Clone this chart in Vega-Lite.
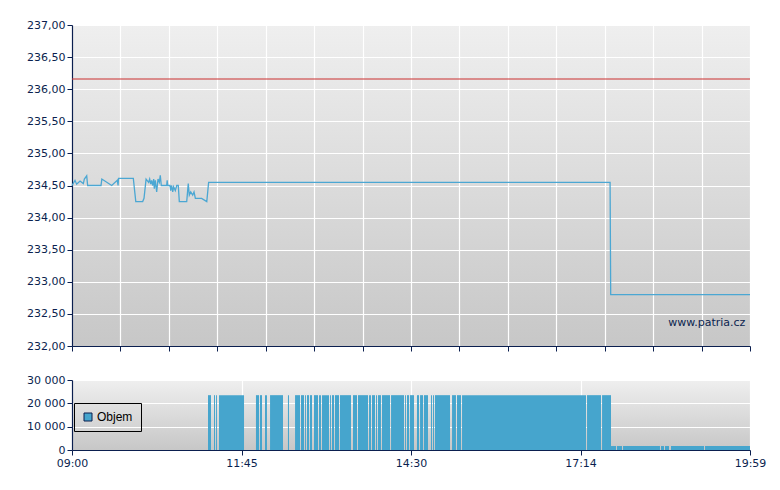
{
  "$schema": "https://vega.github.io/schema/vega-lite/v6.json",
  "background": "white",
  "padding": {"left": 26, "top": 19, "right": 20, "bottom": 5},
  "spacing": 22,
  "config": {
    "font": "DejaVu Sans",
    "view": {"stroke": null},
    "axis": {
      "labelFont": "DejaVu Sans",
      "labelFontSize": 11,
      "labelColor": "#0b1f4f",
      "labelOverlap": false,
      "domainColor": "#0b1f4f",
      "domainWidth": 1.2,
      "tickColor": "#0b1f4f",
      "tickSize": 5,
      "gridColor": "#ffffff",
      "gridWidth": 1.2,
      "gridOpacity": 1,
      "title": null,
      "labelPadding": 2
    }
  },
  "datasets": {
    "price": [
      {"min": 0, "price": 234.5},
      {"min": 2.9, "price": 234.58},
      {"min": 4.5, "price": 234.52},
      {"min": 7.8, "price": 234.57},
      {"min": 11, "price": 234.53},
      {"min": 12, "price": 234.6},
      {"min": 14.3, "price": 234.65},
      {"min": 15.2, "price": 234.5},
      {"min": 28.2, "price": 234.5},
      {"min": 29, "price": 234.6},
      {"min": 38.6, "price": 234.5},
      {"min": 44, "price": 234.58},
      {"min": 44.8, "price": 234.5},
      {"min": 45.2, "price": 234.61},
      {"min": 59.6, "price": 234.61},
      {"min": 62, "price": 234.25},
      {"min": 68.7, "price": 234.25},
      {"min": 70, "price": 234.3},
      {"min": 72, "price": 234.6},
      {"min": 74.5, "price": 234.55},
      {"min": 75.5, "price": 234.6},
      {"min": 76.5, "price": 234.52},
      {"min": 77.4, "price": 234.58},
      {"min": 78.4, "price": 234.5},
      {"min": 79.4, "price": 234.6},
      {"min": 80, "price": 234.45},
      {"min": 81, "price": 234.58},
      {"min": 82.3, "price": 234.4},
      {"min": 83.6, "price": 234.6},
      {"min": 84.9, "price": 234.55},
      {"min": 85.8, "price": 234.66},
      {"min": 86.8, "price": 234.5},
      {"min": 92, "price": 234.5},
      {"min": 92.5, "price": 234.58},
      {"min": 93, "price": 234.5},
      {"min": 95.3, "price": 234.5},
      {"min": 95.9, "price": 234.42},
      {"min": 96.9, "price": 234.5},
      {"min": 97.9, "price": 234.4},
      {"min": 98.8, "price": 234.48},
      {"min": 100.4, "price": 234.42},
      {"min": 101.8, "price": 234.5},
      {"min": 103.3, "price": 234.5},
      {"min": 104.3, "price": 234.25},
      {"min": 111.5, "price": 234.25},
      {"min": 113, "price": 234.53},
      {"min": 114, "price": 234.35},
      {"min": 115.4, "price": 234.4},
      {"min": 117.3, "price": 234.35},
      {"min": 118.6, "price": 234.4},
      {"min": 119.9, "price": 234.3},
      {"min": 126, "price": 234.3},
      {"min": 131, "price": 234.25},
      {"min": 132.8, "price": 234.55},
      {"min": 523, "price": 234.55},
      {"min": 523.6, "price": 232.8},
      {"min": 659, "price": 232.8}
    ],
    "volume": [
      {"start": 132.2, "end": 135.1, "vol": 23500},
      {"start": 138.0, "end": 139.0, "vol": 23500},
      {"start": 140.0, "end": 140.9, "vol": 23500},
      {"start": 142.9, "end": 167.2, "vol": 23500},
      {"start": 178.8, "end": 181.8, "vol": 23500},
      {"start": 182.7, "end": 184.7, "vol": 23500},
      {"start": 187.6, "end": 189.5, "vol": 23500},
      {"start": 192.5, "end": 205.1, "vol": 23500},
      {"start": 209.9, "end": 210.9, "vol": 23500},
      {"start": 216.8, "end": 221.6, "vol": 23500},
      {"start": 222.6, "end": 225.5, "vol": 23500},
      {"start": 226.5, "end": 227.4, "vol": 23500},
      {"start": 228.4, "end": 230.4, "vol": 23500},
      {"start": 231.3, "end": 233.3, "vol": 23500},
      {"start": 235.2, "end": 239.1, "vol": 23500},
      {"start": 240.1, "end": 242.0, "vol": 23500},
      {"start": 243.0, "end": 249.8, "vol": 23500},
      {"start": 250.8, "end": 251.7, "vol": 23500},
      {"start": 252.7, "end": 254.7, "vol": 23500},
      {"start": 255.6, "end": 259.5, "vol": 23500},
      {"start": 260.5, "end": 271.2, "vol": 23500},
      {"start": 273.1, "end": 277.0, "vol": 23500},
      {"start": 278.0, "end": 287.7, "vol": 23500},
      {"start": 288.7, "end": 290.6, "vol": 23500},
      {"start": 291.6, "end": 294.5, "vol": 23500},
      {"start": 295.5, "end": 296.5, "vol": 23500},
      {"start": 297.4, "end": 300.3, "vol": 23500},
      {"start": 301.3, "end": 309.1, "vol": 23500},
      {"start": 310.1, "end": 322.7, "vol": 23500},
      {"start": 323.7, "end": 324.6, "vol": 23500},
      {"start": 325.6, "end": 327.6, "vol": 23500},
      {"start": 328.5, "end": 332.4, "vol": 23500},
      {"start": 335.3, "end": 337.3, "vol": 23500},
      {"start": 338.3, "end": 341.2, "vol": 23500},
      {"start": 342.1, "end": 346.0, "vol": 23500},
      {"start": 348.9, "end": 349.9, "vol": 23500},
      {"start": 350.9, "end": 351.9, "vol": 23500},
      {"start": 352.8, "end": 367.4, "vol": 23500},
      {"start": 369.4, "end": 373.2, "vol": 23500},
      {"start": 374.2, "end": 378.1, "vol": 23500},
      {"start": 379.1, "end": 499.6, "vol": 23500},
      {"start": 500.6, "end": 514.2, "vol": 23500},
      {"start": 515.2, "end": 523.9, "vol": 23500},
      {"start": 523.9, "end": 528.8, "vol": 1700},
      {"start": 529.7, "end": 534.6, "vol": 1700},
      {"start": 535.6, "end": 571.5, "vol": 1700},
      {"start": 572.5, "end": 575.4, "vol": 1700},
      {"start": 576.4, "end": 580.3, "vol": 1700},
      {"start": 582.2, "end": 614.3, "vol": 1700},
      {"start": 615.3, "end": 659, "vol": 1700}
    ]
  },
  "vconcat": [
    {
      "width": 678,
      "height": 321,
      "view": {
        "stroke": null,
        "fill": {"gradient": "linear", "x1": 0, "y1": 0, "x2": 0, "y2": 1,
          "stops": [{"offset": 0, "color": "#efefef"}, {"offset": 1, "color": "#c7c7c7"}]}
      },
      "layer": [
        {
          "data": {"name": "price"},
          "mark": {"type": "line", "color": "#4ba7d3", "strokeWidth": 1.3},
          "encoding": {
            "x": {"field": "min", "type": "quantitative",
              "scale": {"domain": [0, 659], "nice": false, "zero": false},
              "axis": {"values": [0, 47.07, 94.14, 141.21, 188.29, 235.36, 282.43, 329.5, 376.57, 423.64, 470.71, 517.79, 564.86, 611.93, 659], "labels": false, "grid": true}},
            "y": {"field": "price", "type": "quantitative",
              "scale": {"domain": [232, 237], "nice": false, "zero": false},
              "axis": {"values": [232, 232.5, 233, 233.5, 234, 234.5, 235, 235.5, 236, 236.5, 237],
                "labelExpr": "replace(format(datum.value, '.2f'), '.', ',')", "grid": true}}
          }
        },
        {
          "data": {"values": [{"prevClose": 236.16}]},
          "mark": {"type": "rule", "color": "#cc3838", "strokeWidth": 1.6, "opacity": 0.7},
          "encoding": {"y": {"field": "prevClose", "type": "quantitative",
              "axis": {"values": [232, 232.5, 233, 233.5, 234, 234.5, 235, 235.5, 236, 236.5, 237],
                "labelExpr": "replace(format(datum.value, '.2f'), '.', ',')", "grid": true}}}
        },
        {
          "data": {"values": [{"min": 654.5, "price": 232.36, "label": "www.patria.cz"}]},
          "mark": {"type": "text", "align": "right", "baseline": "middle", "font": "DejaVu Sans", "fontSize": 11, "color": "#0b1f4f"},
          "encoding": {
            "x": {"field": "min", "type": "quantitative",
              "axis": {"values": [0, 47.07, 94.14, 141.21, 188.29, 235.36, 282.43, 329.5, 376.57, 423.64, 470.71, 517.79, 564.86, 611.93, 659], "labels": false, "grid": true}},
            "y": {"field": "price", "type": "quantitative",
              "axis": {"values": [232, 232.5, 233, 233.5, 234, 234.5, 235, 235.5, 236, 236.5, 237],
                "labelExpr": "replace(format(datum.value, '.2f'), '.', ',')", "grid": true}},
            "text": {"field": "label"}
          }
        }
      ]
    },
    {
      "width": 678,
      "height": 70,
      "view": {
        "stroke": null,
        "fill": {"gradient": "linear", "x1": 0, "y1": 0, "x2": 0, "y2": 1,
          "stops": [{"offset": 0, "color": "#efefef"}, {"offset": 1, "color": "#c7c7c7"}]}
      },
      "data": {"name": "volume"},
      "mark": {"type": "rect", "color": "#46a5cd"},
      "encoding": {
        "x": {"field": "start", "type": "quantitative",
          "scale": {"domain": [0, 659], "nice": false, "zero": false},
          "axis": {"values": [0, 164.75, 329.5, 494.25, 659],
            "labelExpr": "timeFormat(datetime(2024, 0, 1, 9, round(datum.value)), '%H:%M')", "grid": true, "labelFlush": false}},
        "x2": {"field": "end"},
        "y": {"field": "vol", "type": "quantitative",
          "scale": {"domain": [0, 30000], "nice": false},
          "axis": {"values": [0, 10000, 20000, 30000],
            "labelExpr": "replace(format(datum.value, ','), ',', ' ')", "grid": true}},
        "y2": {"datum": 0},
        "color": {"datum": "Objem", "type": "nominal",
          "scale": {"range": ["#46a5cd"]},
          "legend": {"title": null, "orient": "none", "legendX": 2, "legendY": 378,
            "strokeColor": "#000000", "fillColor": null, "padding": 8,
            "symbolType": "square", "symbolSize": 64, "symbolStrokeColor": "#0b1f4f", "symbolStrokeWidth": 1,
            "symbolFillColor": "#46a5cd", "symbolOpacity": 1, "labelOffset": 3,
            "labelFont": "Liberation Sans", "labelFontSize": 12, "labelColor": "#000000"}}
      }
    }
  ]
}
